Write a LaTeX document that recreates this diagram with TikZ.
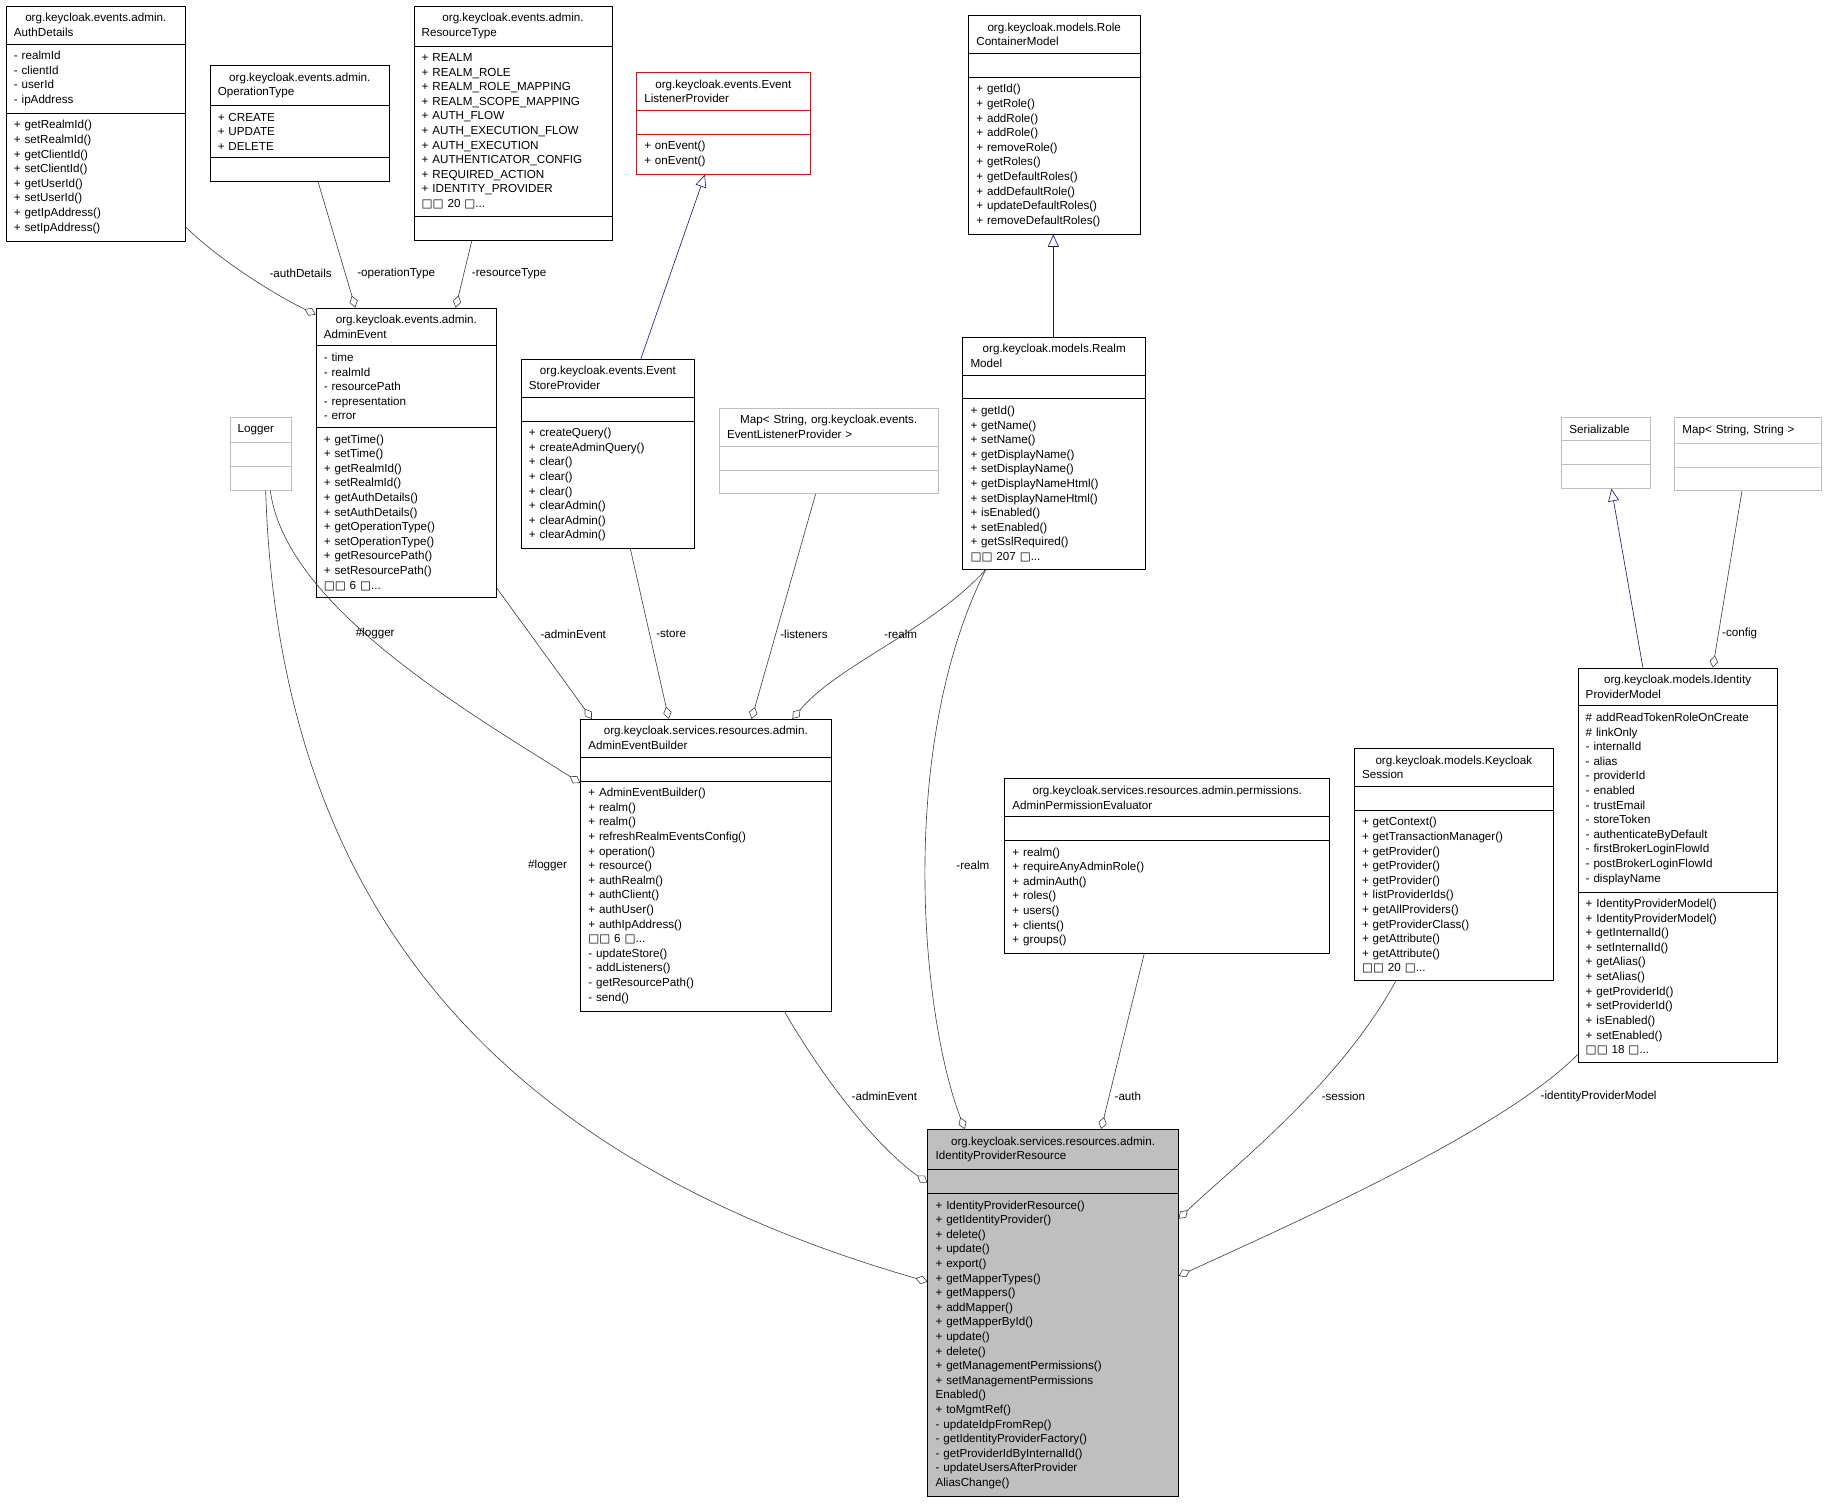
\documentclass[tikz,border=0pt]{standalone}
\usepackage{fontspec}
\setmainfont{Liberation Sans}
\newfontfamily\symfont{DejaVu Sans}
\usetikzlibrary{shapes.multipart}
\usetikzlibrary{arrows.meta}
\usetikzlibrary{calc}
\newcommand\bx{{\symfont\char"25A1}}
\newcommand\nomore{\rule{0pt}{6pt}}
\definecolor{edgegray}{HTML}{404040}
\definecolor{inhblue}{HTML}{191970}
\tikzset{
    cls/.style={rectangle split, rectangle split parts=3, draw=black, fill=white,
        inner xsep=5pt, inner ysep=4.5pt, text width=#1, anchor=north west,
        font=\fontsize{7.5pt}{9.4pt}\selectfont}, % 类框
    extcls/.style={draw=gray!50}, % 外部类
    hotcls/.style={draw=red},
    curcls/.style={fill=gray!50},
    agg/.style={draw=edgegray, {Diamond[open,length=8pt,width=5.5pt]}-}, % 聚合
    inh/.style={draw=inhblue, -{Triangle[open,length=8pt,width=7pt]}}, % 继承
    lbl/.style={font=\fontsize{7.5pt}{9.4pt}\selectfont, inner sep=1pt}
}
\begin{document}
\begin{tikzpicture}[x=0.75pt, y=-0.75pt]
    \useasboundingbox (0,0) rectangle (1568,1292);

    % --- 类框 ---
    \node[cls=105.5pt] (authdet) at (5,5) {\centering org.keycloak.events.admin.\\AuthDetails
        \nodepart{second}- realmId\\- clientId\\- userId\\- ipAddress
        \nodepart{third}+ getRealmId()\\+ setRealmId()\\+ getClientId()\\+ setClientId()\\+ getUserId()\\+ setUserId()\\+ getIpAddress()\\+ setIpAddress()};
    \node[cls=105.5pt] (optype) at (180,56) {\centering org.keycloak.events.admin.\\OperationType
        \nodepart{second}+ CREATE\\+ UPDATE\\+ DELETE
        \nodepart{third}\nomore};
    \node[cls=117.5pt] (restype) at (355,5) {\centering org.keycloak.events.admin.\\ResourceType
        \nodepart{second}+ REALM\\+ REALM\_ROLE\\+ REALM\_ROLE\_MAPPING\\+ REALM\_SCOPE\_MAPPING\\+ AUTH\_FLOW\\+ AUTH\_EXECUTION\_FLOW\\+ AUTH\_EXECUTION\\+ AUTHENTICATOR\_CONFIG\\+ REQUIRED\_ACTION\\+ IDENTITY\_PROVIDER\\\bx\bx{} 20 \bx...
        \nodepart{third}\nomore};
    \node[cls=101.75pt, hotcls] (evlist) at (546,62) {\centering org.keycloak.events.Event\\ListenerProvider
        \nodepart{second}\nomore
        \nodepart{third}+ onEvent()\\+ onEvent()};
    \node[cls=100.25pt] (rolecont) at (831,13) {\centering org.keycloak.models.Role\\ContainerModel
        \nodepart{second}\nomore
        \nodepart{third}+ getId()\\+ getRole()\\+ addRole()\\+ addRole()\\+ removeRole()\\+ getRoles()\\+ getDefaultRoles()\\+ addDefaultRole()\\+ updateDefaultRoles()\\+ removeDefaultRoles()};
    \node[cls=106.25pt] (adminev) at (271,264) {\centering org.keycloak.events.admin.\\AdminEvent
        \nodepart{second}- time\\- realmId\\- resourcePath\\- representation\\- error
        \nodepart{third}+ getTime()\\+ setTime()\\+ getRealmId()\\+ setRealmId()\\+ getAuthDetails()\\+ setAuthDetails()\\+ getOperationType()\\+ setOperationType()\\+ getResourcePath()\\+ setResourcePath()\\\bx\bx{} 6 \bx...};
    \node[cls=101.75pt] (evstore) at (447,308) {\centering org.keycloak.events.Event\\StoreProvider
        \nodepart{second}\nomore
        \nodepart{third}+ createQuery()\\+ createAdminQuery()\\+ clear()\\+ clear()\\+ clear()\\+ clearAdmin()\\+ clearAdmin()\\+ clearAdmin()};
    \node[cls=131pt, extcls] (maplist) at (617,350) {\centering Map< String, org.keycloak.events.\\EventListenerProvider >
        \nodepart{second}\nomore
        \nodepart{third}\nomore};
    \node[cls=29.75pt, extcls] (logger) at (197,358) {\centering Logger
        \nodepart{second}\nomore
        \nodepart{third}\nomore};
    \node[cls=107.75pt] (realm) at (826,289) {\centering org.keycloak.models.Realm\\Model
        \nodepart{second}\nomore
        \nodepart{third}+ getId()\\+ getName()\\+ setName()\\+ getDisplayName()\\+ setDisplayName()\\+ getDisplayNameHtml()\\+ setDisplayNameHtml()\\+ isEnabled()\\+ setEnabled()\\+ getSslRequired()\\\bx\bx{} 207 \bx...};
    \node[cls=47pt, extcls] (serial) at (1340,358) {\centering Serializable
        \nodepart{second}\nomore
        \nodepart{third}\nomore};
    \node[cls=84.5pt, extcls] (mapss) at (1437,358) {\centering Map< String, String >
        \nodepart{second}\nomore
        \nodepart{third}\nomore};
    \node[cls=151.25pt] (aeb) at (498,617) {\centering org.keycloak.services.resources.admin.\\AdminEventBuilder
        \nodepart{second}\nomore
        \nodepart{third}+ AdminEventBuilder()\\+ realm()\\+ realm()\\+ refreshRealmEventsConfig()\\+ operation()\\+ resource()\\+ authRealm()\\+ authClient()\\+ authUser()\\+ authIpAddress()\\\bx\bx{} 6 \bx...\\- updateStore()\\- addListeners()\\- getResourcePath()\\- send()};
    \node[cls=199.25pt] (perm) at (862,668) {\centering org.keycloak.services.resources.admin.permissions.\\AdminPermissionEvaluator
        \nodepart{second}\nomore
        \nodepart{third}+ realm()\\+ requireAnyAdminRole()\\+ adminAuth()\\+ roles()\\+ users()\\+ clients()\\+ groups()};
    \node[cls=118.25pt] (session) at (1162,642) {\centering org.keycloak.models.Keycloak\\Session
        \nodepart{second}\nomore
        \nodepart{third}+ getContext()\\+ getTransactionManager()\\+ getProvider()\\+ getProvider()\\+ getProvider()\\+ listProviderIds()\\+ getAllProviders()\\+ getProviderClass()\\+ getAttribute()\\+ getAttribute()\\\bx\bx{} 20 \bx...};
    \node[cls=118.25pt] (ipmodel) at (1354,573) {\centering org.keycloak.models.Identity\\ProviderModel
        \nodepart{second}\# addReadTokenRoleOnCreate\\\# linkOnly\\- internalId\\- alias\\- providerId\\- enabled\\- trustEmail\\- storeToken\\- authenticateByDefault\\- firstBrokerLoginFlowId\\- postBrokerLoginFlowId\\- displayName
        \nodepart{third}+ IdentityProviderModel()\\+ IdentityProviderModel()\\+ getInternalId()\\+ setInternalId()\\+ getAlias()\\+ setAlias()\\+ getProviderId()\\+ setProviderId()\\+ isEnabled()\\+ setEnabled()\\\bx\bx{} 18 \bx...};
    \node[cls=151.25pt, curcls] (ipr) at (796,969) {\centering org.keycloak.services.resources.admin.\\IdentityProviderResource
        \nodepart{second}\nomore
        \nodepart{third}+ IdentityProviderResource()\\+ getIdentityProvider()\\+ delete()\\+ update()\\+ export()\\+ getMapperTypes()\\+ getMappers()\\+ addMapper()\\+ getMapperById()\\+ update()\\+ delete()\\+ getManagementPermissions()\\+ setManagementPermissions\\Enabled()\\+ toMgmtRef()\\- updateIdpFromRep()\\- getIdentityProviderFactory()\\- getProviderIdByInternalId()\\- updateUsersAfterProvider\\AliasChange()};

    % --- 继承 ---
    \draw[inh] ($(evstore.north west)+(103,0)$) -- ($(evlist.south west)+(59,0)$);
    \draw[inh] ($(realm.north west)+(78,0)$) -- ($(rolecont.south west)+(73,0)$);
    \draw[inh] ($(ipmodel.north west)+(56,0)$) -- ($(serial.south west)+(43,0)$);

    % --- 聚合 ---
    \draw[agg] ($(adminev.north west)+(0,6)$) .. controls (230,250) and (185,220) .. ($(authdet.north east)+(0,190)$);
    \draw[agg] ($(adminev.north west)+(34,0)$) -- ($(optype.south west)+(93,0)$);
    \draw[agg] ($(adminev.north west)+(120,0)$) -- ($(restype.south west)+(50,0)$);
    \draw[agg] ($(ipmodel.north west)+(116,0)$) -- ($(mapss.south west)+(58,0)$);
    \draw[agg] ($(aeb.north west)+(10,0)$) -- ($(adminev.north east)+(0,241)$);
    \draw[agg] ($(aeb.north west)+(76,0)$) -- ($(evstore.south west)+(94,0)$);
    \draw[agg] ($(aeb.north west)+(147,0)$) -- ($(maplist.south west)+(83,0)$);
    \draw[agg] ($(aeb.north west)+(182,0)$) .. controls (720,570) and (800,540) .. ($(realm.south west)+(20,0)$);
    \draw[agg] ($(aeb.north west)+(0,55)$) .. controls (400,610) and (245,520) .. ($(logger.south west)+(35,0)$);
    \draw[agg] ($(ipr.north west)+(0,131)$) .. controls (450,1000) and (240,800) .. ($(logger.south west)+(31,0)$);
    \draw[agg] ($(ipr.north west)+(32,0)$) .. controls (790,870) and (770,640) .. ($(realm.south west)+(20,0)$);
    \draw[agg] ($(ipr.north west)+(0,46)$) .. controls (760,990) and (715,940) .. ($(aeb.south west)+(175,0)$);
    \draw[agg] ($(ipr.north west)+(149,0)$) -- ($(perm.south west)+(120,0)$);
    \draw[agg] ($(ipr.north east)+(0,77)$) .. controls (1060,1000) and (1150,930) .. ($(session.south west)+(36,0)$);
    \draw[agg] ($(ipr.north east)+(0,126)$) .. controls (1110,1050) and (1290,970) .. ($(ipmodel.north west)+(0,332)$);

    % --- 标签 ---
    \node[lbl] (l1) at (258,235) {-authDetails};
    \node[lbl] (l2) at (340,235) {-operationType};
    \node[lbl] (l3) at (437,235) {-resourceType};
    \node[lbl] (l4) at (1493,544) {-config};
    \node[lbl] (l5) at (492,544) {-adminEvent};
    \node[lbl] (l6) at (576,544) {-store};
    \node[lbl] (l7) at (690,544) {-listeners};
    \node[lbl] (l8) at (773,544) {-realm};
    \node[lbl] (l9) at (322,544) {\#logger};
    \node[lbl] (l10) at (470,743) {\#logger};
    \node[lbl] (l11) at (835,743) {-realm};
    \node[lbl] (l12) at (759,941) {-adminEvent};
    \node[lbl] (l13) at (968,941) {-auth};
    \node[lbl] (l14) at (1153,941) {-session};
    \node[lbl] (l15) at (1372,941) {-identityProviderModel};
\end{tikzpicture}
\end{document}
